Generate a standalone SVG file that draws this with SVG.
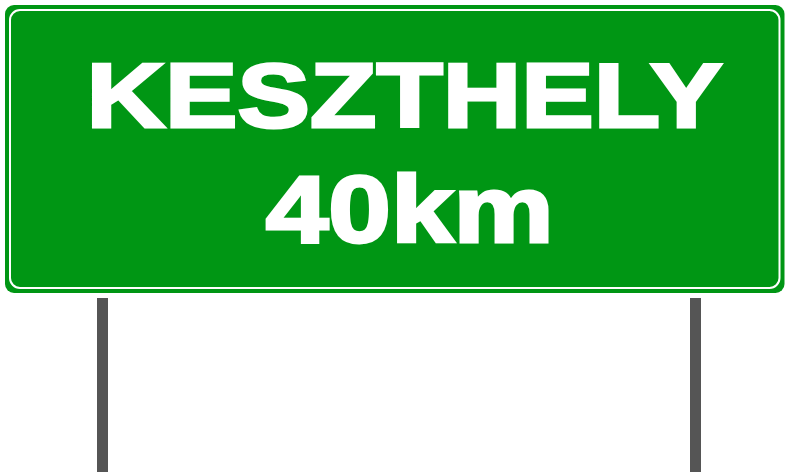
<svg xmlns="http://www.w3.org/2000/svg" width="790" height="472" viewBox="0 0 790 472">
<style>
.post{fill:#555555}
.txt{font-family:"Liberation Sans",Arial,sans-serif;font-weight:bold;fill:#ffffff;stroke:#ffffff;stroke-width:3;stroke-linejoin:miter;stroke-miterlimit:4}
</style>
<rect width="790" height="472" fill="#ffffff"/>
<g id="posts">
<rect id="post-left" class="post" x="97" y="298" width="11" height="174"/>
<rect id="post-right" class="post" x="690" y="298" width="11" height="174"/>
</g>
<g id="sign">
<rect x="5" y="5" width="779.5" height="288" rx="9" ry="9" fill="#009614"/>
<rect x="10" y="10" width="769.5" height="278" rx="10" ry="10" fill="none" stroke="#ffffff" stroke-width="2"/>
<text class="txt" x="86.6" y="126.8" font-size="91.2" textLength="636" lengthAdjust="spacingAndGlyphs">KESZTHELY</text>
<text class="txt" x="265.7" y="241.5" font-size="94" textLength="288" lengthAdjust="spacingAndGlyphs">40km</text>
</g>
</svg>
